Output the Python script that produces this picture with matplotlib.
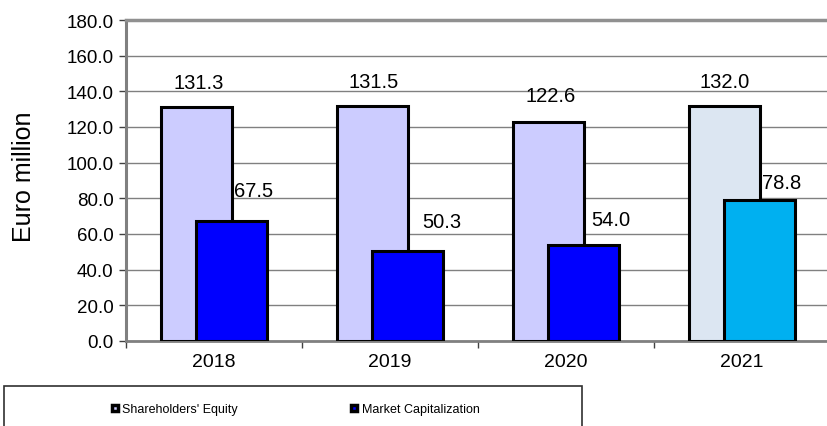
import numpy as np
import matplotlib
matplotlib.use("Agg")
import matplotlib.pyplot as plt
from matplotlib.lines import Line2D
from matplotlib.patches import Rectangle

plt.rcParams['font.family'] = ['Liberation Sans', 'DejaVu Sans']

years = ["2018", "2019", "2020", "2021"]
equity = [131.3, 131.5, 122.6, 132.0]
market_cap = [67.5, 50.3, 54.0, 78.8]
yticks = [0, 20, 40, 60, 80, 100, 120, 140, 160, 180]

equity_colors = ["#CCCCFF", "#CCCCFF", "#CCCCFF", "#DCE6F2"]
cap_colors = ["#0000FF", "#0000FF", "#0000FF", "#00B0F0"]

# label offsets in pixels (dx, dy to baseline)
equity_off = [(2, 19), (1, 19), (2, 21), (0, 19)]
cap_off = [(22, 25), (34, 24), (27, 20), (22, 12)]

fig = plt.figure(figsize=(8.27, 4.27), dpi=100)
ax = fig.add_axes([126 / 827, 85 / 427, 704 / 827, 321 / 427])

x = np.arange(len(years))
w = 0.4
b1 = ax.bar(x - 0.1, equity, w, color=equity_colors, edgecolor="black", linewidth=2.2, zorder=3)
b2 = ax.bar(x + 0.1, market_cap, w, color=cap_colors, edgecolor="black", linewidth=2.2, zorder=4)

for rect, v, (dx, dy) in zip(b1, equity, equity_off):
    ax.annotate(f"{v:.1f}", (rect.get_x() + rect.get_width() / 2, v), xytext=(dx, dy),
                textcoords="offset pixels", ha="center", va="baseline", fontsize=14.5, zorder=5)
for rect, v, (dx, dy) in zip(b2, market_cap, cap_off):
    ax.annotate(f"{v:.1f}", (rect.get_x() + rect.get_width() / 2, v), xytext=(dx, dy),
                textcoords="offset pixels", ha="center", va="baseline", fontsize=14.5, zorder=5)

ax.set_xlim(-0.5, len(years) - 0.5)
ax.set_ylim(0, 180)
ax.set_yticks(yticks)
ax.set_yticklabels([f"{t:.1f}" for t in yticks], fontsize=13.5)
ax.set_xticks(x)
ax.set_xticklabels(years, fontsize=14)
ax.set_xticks(np.arange(len(years) + 1) - 0.5, minor=True)
ax.tick_params(axis="x", which="major", length=0, pad=9)
ax.tick_params(axis="x", which="minor", length=5, width=1, color="#404040", direction="out")
ax.tick_params(axis="y", length=5, width=1, color="#404040", direction="out", pad=4)

ax.grid(axis="y", color="#808080", linewidth=1, zorder=0)
ax.set_axisbelow(True)
ax.spines["right"].set_visible(False)
ax.spines["left"].set_color("#808080")
ax.spines["left"].set_linewidth(2.2)
ax.spines["bottom"].set_color("#808080")
ax.spines["bottom"].set_linewidth(2)
ax.spines["top"].set_color("#909090")
ax.spines["top"].set_linewidth(2.5)

fig.text(24 / 827, 1 - 177 / 427, "Euro million", rotation=90, ha="center", va="center", fontsize=18)

# legend box
fig.patches.append(Rectangle((4 / 827, -0.05), 578 / 827, 1 - 387 / 427 + 0.05, transform=fig.transFigure,
                             facecolor="white", edgecolor="#303030", linewidth=1.2))
handles = [
    Line2D([], [], linestyle="none", marker="s", markersize=4.5, markerfacecolor="#CCCCFF",
           markeredgecolor="black", markeredgewidth=2.5),
    Line2D([], [], linestyle="none", marker="s", markersize=4.5, markerfacecolor="#0000FF",
           markeredgecolor="black", markeredgewidth=2.5),
]
fig.legend(handles, ["Shareholders' Equity", "Market Capitalization"], ncol=2, frameon=False,
           loc="center left", bbox_to_anchor=(110 / 827, 1 - 410 / 427), fontsize=9,
           handlelength=0.8, handletextpad=0.2, columnspacing=8.9, borderpad=0, borderaxespad=0)

fig.savefig("out.png", dpi=100)
